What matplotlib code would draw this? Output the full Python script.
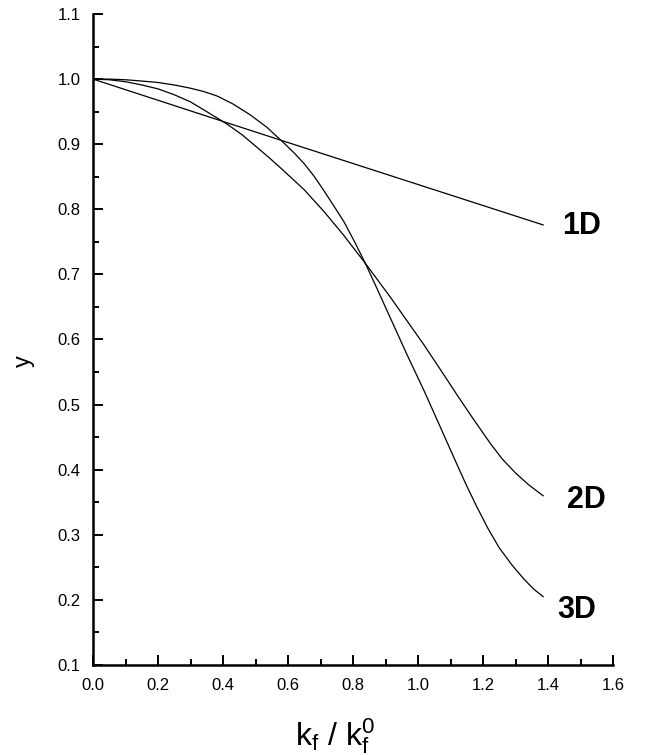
import matplotlib
matplotlib.use("Agg")
import matplotlib.pyplot as plt
from matplotlib.ticker import MultipleLocator, FormatStrFormatter

plt.rcParams['font.family'] = ['Liberation Sans', 'DejaVu Sans']
plt.rcParams['mathtext.default'] = 'regular'

# ---- data ----
x_1d = [0.0, 0.412, 0.585, 1.385]
y_1d = [1.0, 0.933, 0.905, 0.776]

x_2d = [0.0, 0.05, 0.1, 0.15, 0.2, 0.25, 0.3, 0.35, 0.412, 0.46, 0.505, 0.545, 0.585,
        0.65, 0.71, 0.77, 0.838, 0.915, 0.97, 1.018, 1.07, 1.12, 1.17, 1.223,
        1.26, 1.3, 1.34, 1.385]
y_2d = [1.0, 0.999, 0.996, 0.991, 0.985, 0.976, 0.965, 0.950, 0.931, 0.914, 0.895,
        0.878, 0.860, 0.830, 0.797, 0.761, 0.717, 0.665, 0.626, 0.592, 0.553,
        0.515, 0.478, 0.440, 0.416, 0.395, 0.377, 0.360]

x_3d = [0.0, 0.05, 0.1, 0.15, 0.197, 0.25, 0.3, 0.34, 0.382, 0.43, 0.484, 0.535,
        0.585, 0.62, 0.65, 0.68, 0.71, 0.74, 0.772, 0.805, 0.838, 0.875, 0.915,
        0.965, 1.018, 1.07, 1.12, 1.15, 1.182, 1.215, 1.25, 1.29, 1.326, 1.355, 1.385]
y_3d = [1.0, 1.0, 0.999, 0.997, 0.995, 0.991, 0.986, 0.981, 0.974, 0.962, 0.945,
        0.926, 0.903, 0.886, 0.870, 0.851, 0.829, 0.806, 0.781, 0.750, 0.717,
        0.677, 0.633, 0.578, 0.522, 0.464, 0.408, 0.375, 0.342, 0.310, 0.280,
        0.253, 0.232, 0.217, 0.205]

series = [("1D", x_1d, y_1d, (19, -9.5)),
          ("2D", x_2d, y_2d, (24, -12)),
          ("3D", x_3d, y_3d, (14, -21))]

x_label = r"k$_f$ / k$_f^0$"
y_label = "y"

fig = plt.figure(figsize=(6.52, 7.55), dpi=100)
ax = fig.add_axes([93/652, 90/755, 520/652, 651/755])

for name, xs, ys, off in series:
    ax.plot(xs, ys, color='black', lw=0.9, solid_joinstyle='round')
    ax.annotate(name, xy=(xs[-1], ys[-1]), xytext=off, textcoords='offset pixels',
                ha='left', va='baseline', fontsize=22, fontweight='bold',
                annotation_clip=False)

ax.set_xlim(0, 1.6)
ax.set_ylim(0.1, 1.1)
ax.xaxis.set_major_locator(MultipleLocator(0.2))
ax.xaxis.set_minor_locator(MultipleLocator(0.1))
ax.yaxis.set_major_locator(MultipleLocator(0.1))
ax.yaxis.set_minor_locator(MultipleLocator(0.05))
ax.xaxis.set_major_formatter(FormatStrFormatter('%.1f'))
ax.yaxis.set_major_formatter(FormatStrFormatter('%.1f'))

for s in ['top', 'right']:
    ax.spines[s].set_visible(False)
for s in ['left', 'bottom']:
    ax.spines[s].set_linewidth(1.8)

ax.tick_params(which='both', direction='in', width=1.4, labelsize=12)
ax.tick_params(which='major', length=7.2)
ax.tick_params(which='minor', length=4)
ax.tick_params(axis='x', which='major', pad=9)
ax.tick_params(axis='y', which='major', pad=9)

ax.set_xlabel(x_label, fontsize=23)
ax.xaxis.label.set_va('baseline')
ax.xaxis.set_label_coords(0.4654, -0.1229)
ax.set_ylabel(y_label, fontsize=17)
ax.yaxis.set_label_coords(-0.1115, 0.467)

fig.savefig("out.png", dpi=100)
